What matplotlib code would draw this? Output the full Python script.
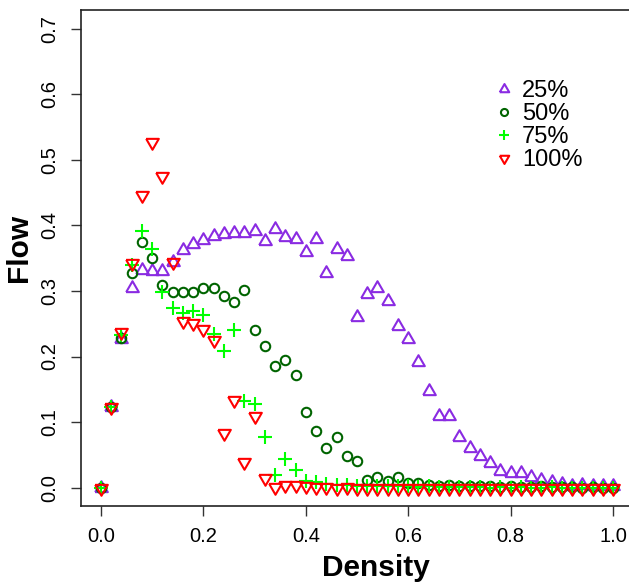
import numpy as np
import matplotlib
matplotlib.use("Agg")
import matplotlib.pyplot as plt

plt.rcParams['font.family'] = ['Liberation Sans', 'DejaVu Sans']

density = [0.00, 0.02, 0.04, 0.06, 0.08, 0.10, 0.12, 0.14, 0.16, 0.18,
           0.20, 0.22, 0.24, 0.26, 0.28, 0.30, 0.32, 0.34, 0.36, 0.38,
           0.40, 0.42, 0.44, 0.46, 0.48, 0.50, 0.52, 0.54, 0.56, 0.58,
           0.60, 0.62, 0.64, 0.66, 0.68, 0.70, 0.72, 0.74, 0.76, 0.78,
           0.80, 0.82, 0.84, 0.86, 0.88, 0.90, 0.92, 0.94, 0.96, 0.98, 1.00]

flow_25 = [0.000, 0.123, 0.226, 0.304, 0.332, 0.331, 0.330, 0.344, 0.362, 0.372,
           0.377, 0.384, 0.387, 0.389, 0.388, 0.391, 0.376, 0.394, 0.383, 0.380,
           0.359, 0.380, 0.328, 0.364, 0.354, 0.260, 0.295, 0.305, 0.284, 0.247,
           0.227, 0.191, 0.148, 0.109, 0.109, 0.078, 0.060, 0.048, 0.038, 0.026,
           0.022, 0.022, 0.016, 0.012, 0.009, 0.006, 0.003, 0.004, 0.002, 0.002, 0.002]

flow_50 = [0.000, 0.123, 0.229, 0.328, 0.374, 0.350, 0.309, 0.298, 0.299, 0.299,
           0.304, 0.305, 0.293, 0.283, 0.302, 0.241, 0.216, 0.185, 0.195, 0.172,
           0.115, 0.086, 0.060, 0.078, 0.049, 0.041, 0.011, 0.016, 0.010, 0.016,
           0.007, 0.007, 0.004, 0.003, 0.004, 0.002, 0.002, 0.003, 0.002, 0.001,
           0.002, 0.001, 0.001, 0.002, 0.001, 0.001, 0.001, 0.000, 0.001, 0.000, 0.000]

flow_75 = [0.000, 0.123, 0.233, 0.340, 0.391, 0.364, 0.299, 0.274, 0.266, 0.269,
           0.264, 0.235, 0.208, 0.241, 0.132, 0.127, 0.078, 0.020, 0.044, 0.027,
           0.010, 0.008, 0.006, 0.004, 0.004, 0.003, 0.003, 0.002, 0.002, 0.002,
           0.002, 0.001, 0.002, 0.001, 0.001, 0.001, 0.001, 0.001, 0.000, 0.001,
           0.000, 0.001, 0.000, 0.000, 0.001, 0.000, 0.000, 0.000, 0.000, 0.000, 0.000]

flow_100 = [0.000, 0.123, 0.237, 0.343, 0.447, 0.528, 0.476, 0.344, 0.254, 0.251,
            0.242, 0.225, 0.083, 0.133, 0.039, 0.109, 0.015, 0.001, 0.004, 0.004,
            0.002, 0.001, 0.001, 0.000, 0.001, 0.000, 0.000, 0.000, 0.000, 0.000,
            0.000, 0.000, 0.000, 0.000, 0.000, 0.000, 0.000, 0.000, 0.000, 0.000,
            0.000, 0.000, 0.000, 0.000, 0.000, 0.000, 0.000, 0.000, 0.000, 0.000, 0.000]

series_labels = ["25%", "50%", "75%", "100%"]
x_ticks = [0.0, 0.2, 0.4, 0.6, 0.8, 1.0]
y_ticks = [0.0, 0.1, 0.2, 0.3, 0.4, 0.5, 0.6, 0.7]

tri_up = [(-1.0, -0.577), (1.0, -0.577), (0.0, 1.155), (-1.0, -0.577)]
tri_dn = [(-1.0, 0.577), (1.0, 0.577), (0.0, -1.155), (-1.0, 0.577)]

styles = [
    dict(marker=tri_up, color='#8A2BE2', ms=10.5),
    dict(marker='o', color='#006400', ms=6.8),
    dict(marker='+', color='#00FF00', ms=9.5),
    dict(marker=tri_dn, color='#FF0000', ms=10.5),
]
all_flows = [flow_25, flow_50, flow_75, flow_100]

fig = plt.figure(figsize=(6.29, 5.85), dpi=100)
ax = fig.add_axes([80.5 / 629, (585 - 506) / 585, 553 / 629, 495.6 / 585])

handles = []
for flows, st, lab in zip(all_flows, styles, series_labels):
    h, = ax.plot(density, flows, linestyle='none', marker=st['marker'],
                 markersize=st['ms'], markerfacecolor='none',
                 markeredgecolor=st['color'], markeredgewidth=1.5, label=lab)
    handles.append(h)

ax.set_xlim(-0.04, 1.04)
ax.set_ylim(-0.028, 0.728)
ax.set_xticks(x_ticks)
ax.set_xticklabels([f"{v:.1f}" for v in x_ticks])
ax.set_yticks(y_ticks)
ax.set_yticklabels([f"{v:.1f}" for v in y_ticks], rotation=90, va='center')
ax.tick_params(direction='out', length=7, width=1, labelsize=14.5, pad=8,
               color='#333333')
for s in ax.spines.values():
    s.set_linewidth(1.2)
    s.set_color('#222222')

ax.set_xlabel("Density", fontsize=21.5, fontweight='bold')
ax.set_ylabel("Flow", fontsize=21.5, fontweight='bold')
ax.xaxis.set_label_coords((376 - 80.5) / 553, (506 - 568) / 495.6)
ax.yaxis.set_label_coords((19 - 80.5) / 553, (506 - 248) / 495.6)
ax.xaxis.label.set_va('center')
ax.yaxis.label.set_va('center')

leg = ax.legend(handles=handles, loc='upper left', bbox_to_anchor=(0.733, 0.878),
                frameon=False, fontsize=17, markerscale=0.75,
                handlelength=0.75, handletextpad=0.38, labelspacing=0.04,
                borderaxespad=0)

fig.savefig("out.png", dpi=100)
